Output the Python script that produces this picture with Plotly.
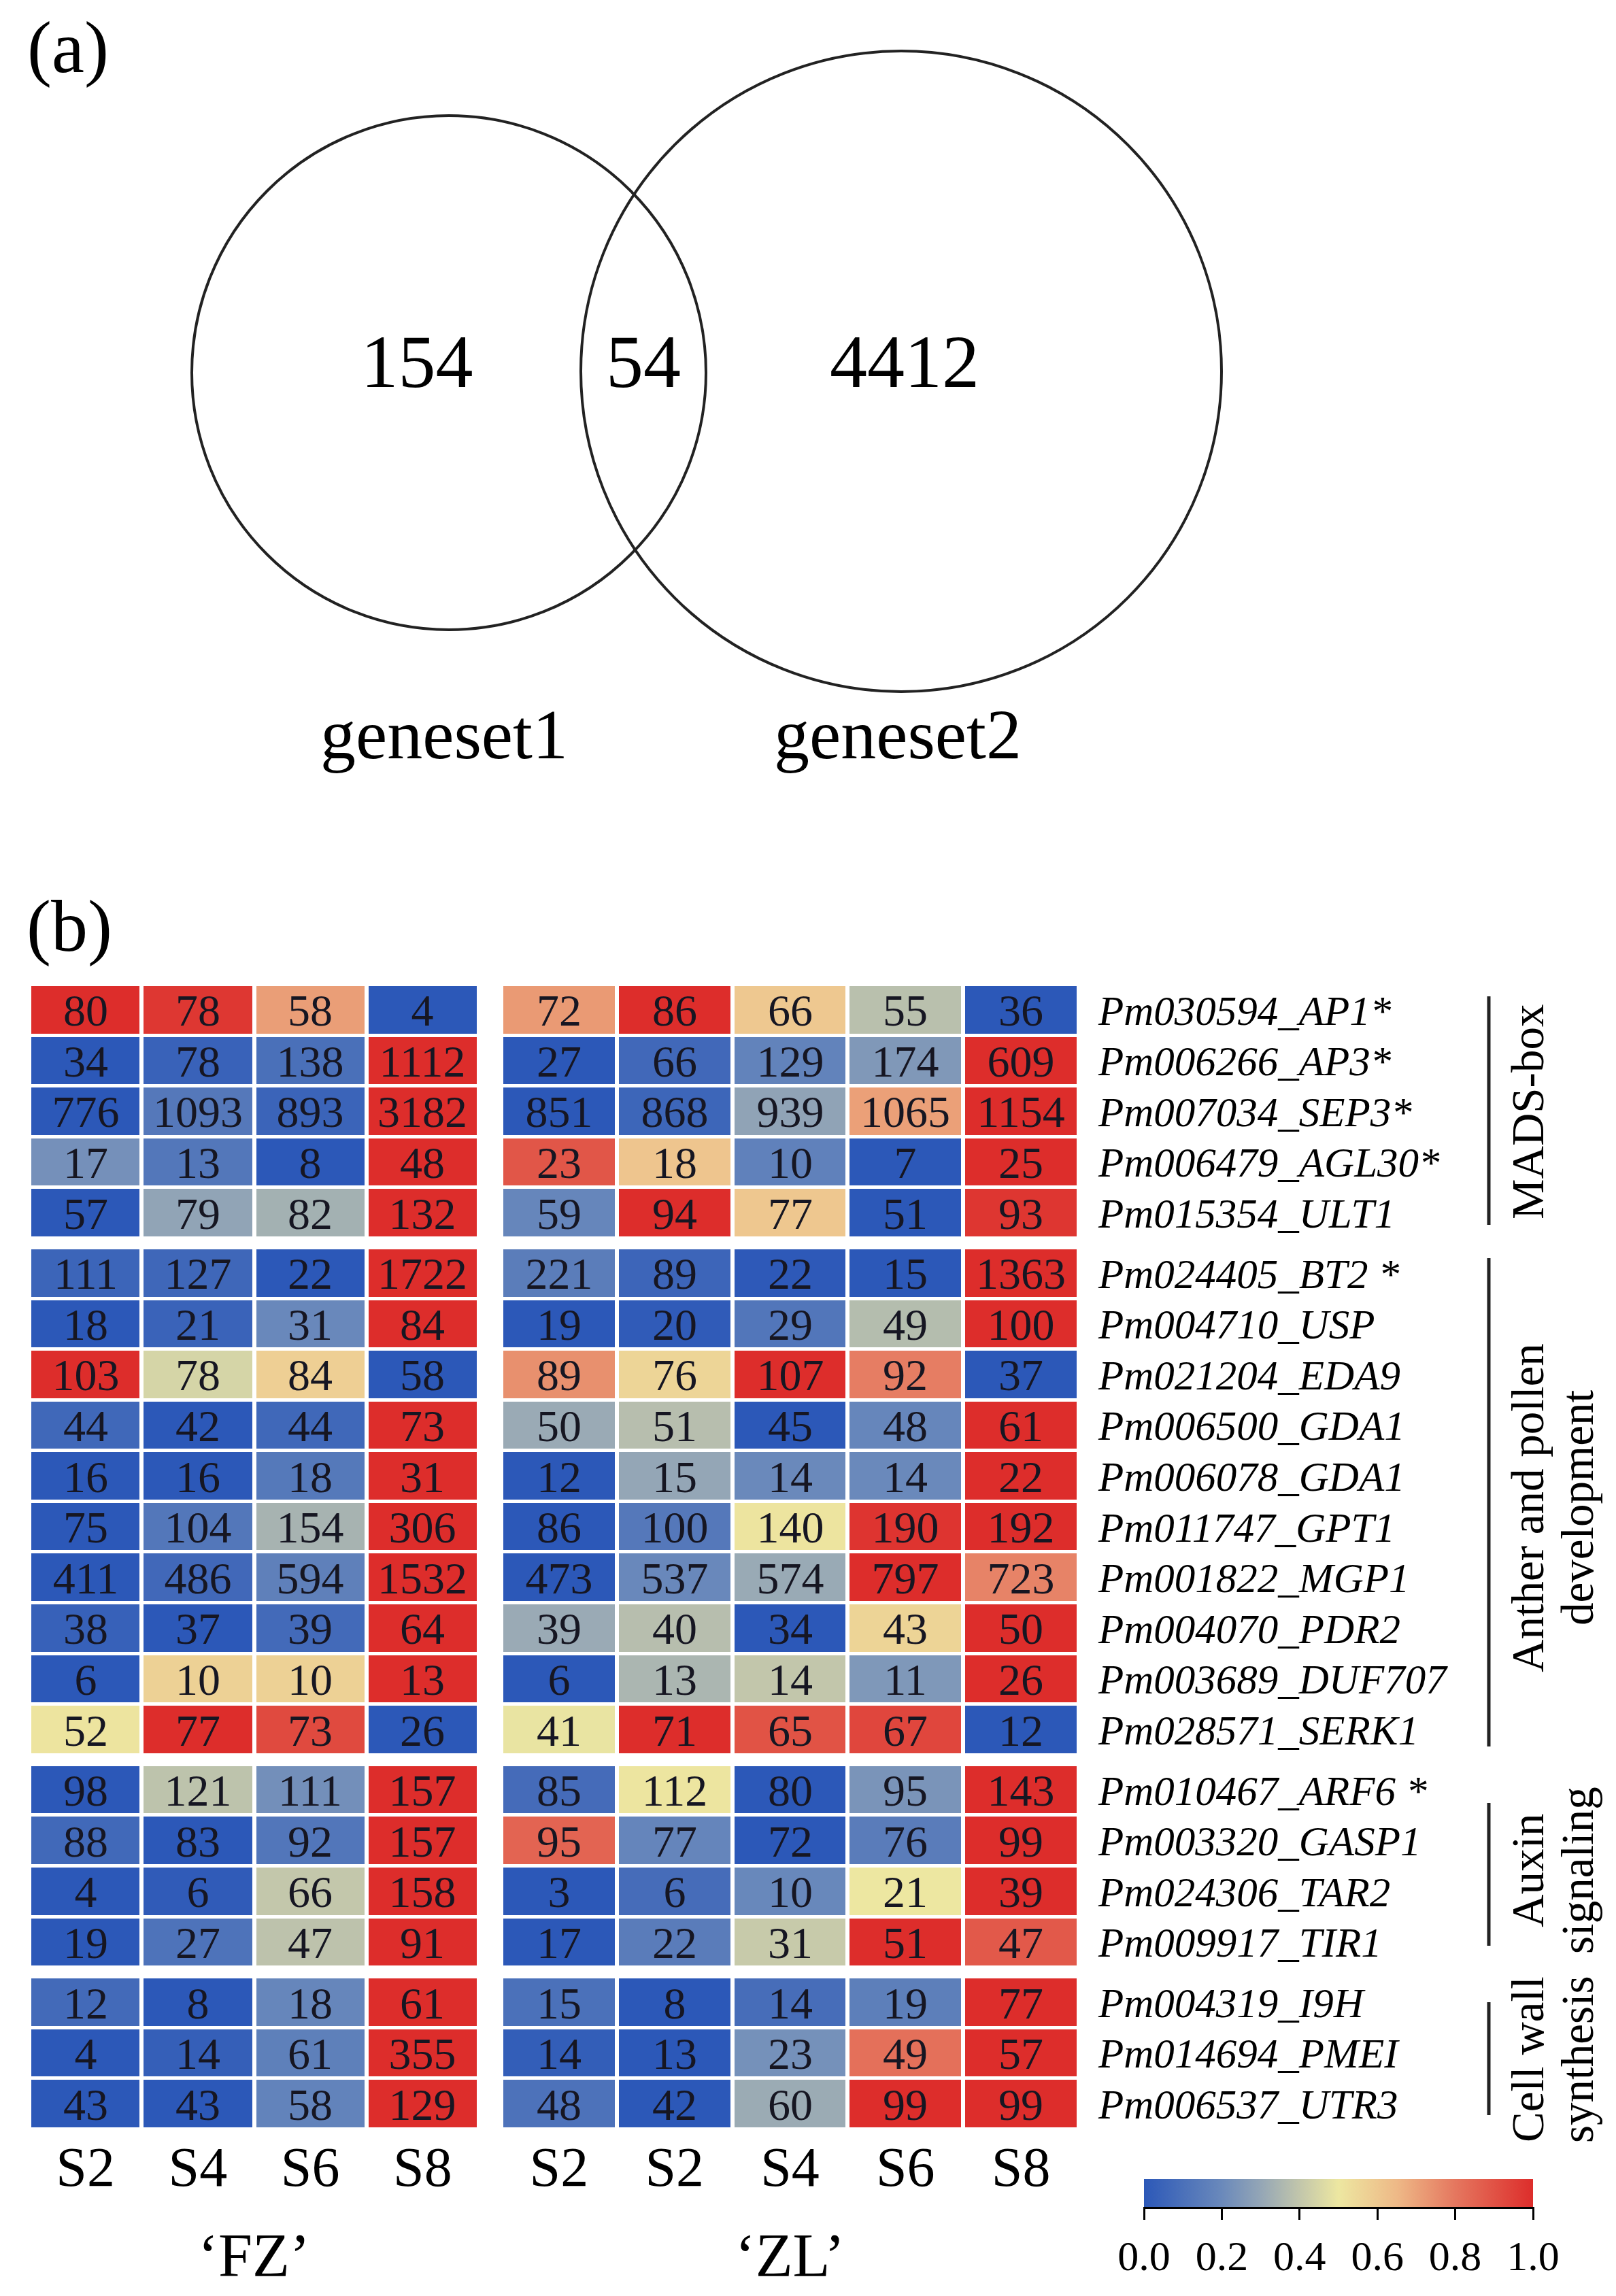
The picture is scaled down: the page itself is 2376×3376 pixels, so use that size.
import plotly.graph_objects as go

# ---------------- data ----------------
venn_labels = ["geneset1", "geneset2"]
venn_counts = ["154", "54", "4412"]  # only set1, overlap, only set2

genes = ["Pm030594_AP1*", "Pm006266_AP3*", "Pm007034_SEP3*", "Pm006479_AGL30*",
         "Pm015354_ULT1", "Pm024405_BT2 *", "Pm004710_USP", "Pm021204_EDA9",
         "Pm006500_GDA1", "Pm006078_GDA1", "Pm011747_GPT1", "Pm001822_MGP1",
         "Pm004070_PDR2", "Pm003689_DUF707", "Pm028571_SERK1", "Pm010467_ARF6 *",
         "Pm003320_GASP1", "Pm024306_TAR2", "Pm009917_TIR1", "Pm004319_I9H",
         "Pm014694_PMEI", "Pm006537_UTR3"]

group_names = ["MADS-box", "Anther and pollen\ndevelopment", "Auxin\nsignaling", "Cell wall\nsynthesis"]
group_sizes = [5, 10, 4, 3]

fz_cols = ["S2", "S4", "S6", "S8"]
zl_cols = ["S2", "S2", "S4", "S6", "S8"]

fz_values = [
    [80, 78, 58, 4], [34, 78, 138, 1112], [776, 1093, 893, 3182], [17, 13, 8, 48],
    [57, 79, 82, 132], [111, 127, 22, 1722], [18, 21, 31, 84], [103, 78, 84, 58],
    [44, 42, 44, 73], [16, 16, 18, 31], [75, 104, 154, 306], [411, 486, 594, 1532],
    [38, 37, 39, 64], [6, 10, 10, 13], [52, 77, 73, 26], [98, 121, 111, 157],
    [88, 83, 92, 157], [4, 6, 66, 158], [19, 27, 47, 91], [12, 8, 18, 61],
    [4, 14, 61, 355], [43, 43, 58, 129]]

zl_values = [
    [72, 86, 66, 55, 36], [27, 66, 129, 174, 609], [851, 868, 939, 1065, 1154],
    [23, 18, 10, 7, 25], [59, 94, 77, 51, 93], [221, 89, 22, 15, 1363],
    [19, 20, 29, 49, 100], [89, 76, 107, 92, 37], [50, 51, 45, 48, 61],
    [12, 15, 14, 14, 22], [86, 100, 140, 190, 192], [473, 537, 574, 797, 723],
    [39, 40, 34, 43, 50], [6, 13, 14, 11, 26], [41, 71, 65, 67, 12],
    [85, 112, 80, 95, 143], [95, 77, 72, 76, 99], [3, 6, 10, 21, 39],
    [17, 22, 31, 51, 47], [15, 8, 14, 19, 77], [14, 13, 23, 49, 57],
    [48, 42, 60, 99, 99]]

colorbar_ticks = [0.0, 0.2, 0.4, 0.6, 0.8, 1.0]

# ---------------- style / layout ----------------
W, H = 2376, 3376
FONT = "Liberation Serif, Times New Roman, serif"
CMAP = [[0.0, "#2c58b8"], [0.2, "#6a89bb"], [0.3, "#94a6b6"], [0.4, "#c2c6ab"],
        [0.5, "#ede7a1"], [0.65, "#eeb987"], [0.8, "#e5775f"], [1.0, "#dd2d2b"]]


def px(x):
    return x / W


def py(y):
    return 1 - y / H


def norm_row(r):
    lo, hi = min(r), max(r)
    return [(v - lo) / (hi - lo) if hi > lo else 0.0 for v in r]


SPACER = 14 / 74.3


def build(values):
    z, txt, edges = [], [], [0.0]
    i = 0
    for gi, n in enumerate(group_sizes):
        if gi > 0:
            z.append([None] * len(values[0]))
            txt.append([""] * len(values[0]))
            edges.append(edges[-1] + SPACER)
        for _ in range(n):
            z.append(norm_row(values[i]))
            txt.append([str(v) for v in values[i]])
            edges.append(edges[-1] + 1.0)
            i += 1
    return z, txt, edges


fz_z, fz_t, yedges = build(fz_values)
zl_z, zl_t, _ = build(zl_values)
total = yedges[-1]

# row centres (for gene labels)
row_centers = []
for k in range(len(yedges) - 1):
    if fz_z[k][0] is not None:
        row_centers.append((yedges[k] + yedges[k + 1]) / 2)

fig = go.Figure()

cell_font = dict(family=FONT, size=66, color="#161622")

fig.add_trace(go.Heatmap(
    z=fz_z, x=list(range(len(fz_cols) + 1)), y=yedges, text=fz_t,
    texttemplate="%{text}", textfont=cell_font, coloraxis="coloraxis",
    xgap=6, ygap=5, xaxis="x", yaxis="y", hoverinfo="skip"))
fig.add_trace(go.Heatmap(
    z=zl_z, x=list(range(len(zl_cols) + 1)), y=yedges, text=zl_t,
    texttemplate="%{text}", textfont=cell_font, coloraxis="coloraxis",
    xgap=6, ygap=5, xaxis="x2", yaxis="y2", hoverinfo="skip"))

# Venn numbers & labels
fig.add_trace(go.Scatter(
    x=[605, 938, 1322], y=[533, 533, 533], mode="text", text=venn_counts,
    textfont=dict(family=FONT, size=110, color="black"), xaxis="x3", yaxis="y3",
    hoverinfo="skip", showlegend=False))
fig.add_trace(go.Scatter(
    x=[645, 1312], y=[1081, 1081], mode="text", text=venn_labels,
    textfont=dict(family=FONT, size=104, color="black"), xaxis="x3", yaxis="y3",
    hoverinfo="skip", showlegend=False))

hm_top, hm_bot = 1440, 3123
axis_common = dict(showgrid=False, zeroline=False, showline=False, ticks="")
title_font = dict(family=FONT, size=90, color="black")

fig.update_layout(
    width=W, height=H, margin=dict(l=0, r=0, t=0, b=0),
    paper_bgcolor="white", plot_bgcolor="white", showlegend=False,
    xaxis=dict(domain=[px(35), px(696)], range=[0, len(fz_cols)],
               tickvals=[k + 0.5 for k in range(len(fz_cols))], ticktext=fz_cols,
               tickfont=dict(family=FONT, size=82, color="black"), ticklabelstandoff=0,
               title=dict(text="\u2018FZ\u2019", font=title_font, standoff=52),
               anchor="y", **axis_common),
    yaxis=dict(domain=[py(hm_bot), py(hm_top)], range=[total, 0], showticklabels=False,
               anchor="x", **axis_common),
    xaxis2=dict(domain=[px(729), px(1578)], range=[0, len(zl_cols)],
                tickvals=[k + 0.5 for k in range(len(zl_cols))], ticktext=zl_cols,
                tickfont=dict(family=FONT, size=82, color="black"), ticklabelstandoff=0,
                title=dict(text="\u2018ZL\u2019", font=title_font, standoff=52),
                anchor="y2", **axis_common),
    yaxis2=dict(domain=[py(hm_bot), py(hm_top)], range=[total, 0], side="right",
                tickvals=row_centers, ticktext=genes, ticklabelstandoff=28,
                tickfont=dict(family=FONT, size=61, color="black", style="italic"),
                anchor="x2", **axis_common),
    xaxis3=dict(domain=[0, 1], range=[0, W], visible=False, anchor="y3"),
    yaxis3=dict(domain=[py(1200), 1], range=[1200, 0], visible=False, anchor="x3"),
    coloraxis=dict(
        cmin=0, cmax=1, colorscale=CMAP,
        colorbar=dict(orientation="h", x=px(1960), xanchor="center", lenmode="pixels", len=572,
                      thickness=41, thicknessmode="pixels", y=py(3196), yanchor="top",
                      xpad=0, ypad=0, outlinewidth=0, tickvals=colorbar_ticks,
                      ticktext=["%.1f" % t for t in colorbar_ticks],
                      ticks="outside", ticklen=19, tickwidth=3, tickcolor="black",
                      tickfont=dict(family=FONT, size=62, color="black"))),
)

# Venn circles (in Venn axis units)
for (cx, cy, r) in [(652, 540, 378), (1317, 538, 471)]:
    fig.add_shape(type="circle", xref="x3", yref="y3", x0=cx - r, x1=cx + r, y0=cy - r, y1=cy + r,
                  line=dict(color="#222222", width=4))

# colour bar baseline
fig.add_shape(type="line", xref="paper", yref="paper", x0=px(1674), x1=px(2246),
              y0=py(3238), y1=py(3238), line=dict(color="black", width=4))

# group brackets and labels
brackets = [(1457, 1793), (1842, 2560), (2643, 2853), (2936, 3102)]
label_y = [1627, 2209, 2742, 3020]
for (y0, y1), name, yc in zip(brackets, group_names, label_y):
    fig.add_shape(type="line", xref="paper", yref="paper", x0=px(2181), x1=px(2181),
                  y0=py(y0), y1=py(y1), line=dict(color="#222222", width=5))
    lines = name.split("\n")
    xs = [2238, 2311]
    for li, t in enumerate(lines):
        fig.add_annotation(x=px(xs[li]), y=py(yc), xref="paper", yref="paper", text=t,
                           textangle=-90, showarrow=False, xanchor="center", yanchor="middle",
                           font=dict(family=FONT, size=67, color="black"))

# panel labels
for t, (x, y) in [("(a)", (92, 62)), ("(b)", (94, 1354))]:
    fig.add_annotation(x=px(x), y=py(y), xref="paper", yref="paper", text=t, showarrow=False,
                       xanchor="center", yanchor="middle", font=dict(family=FONT, size=108, color="black"))

fig.write_html("out.html")
